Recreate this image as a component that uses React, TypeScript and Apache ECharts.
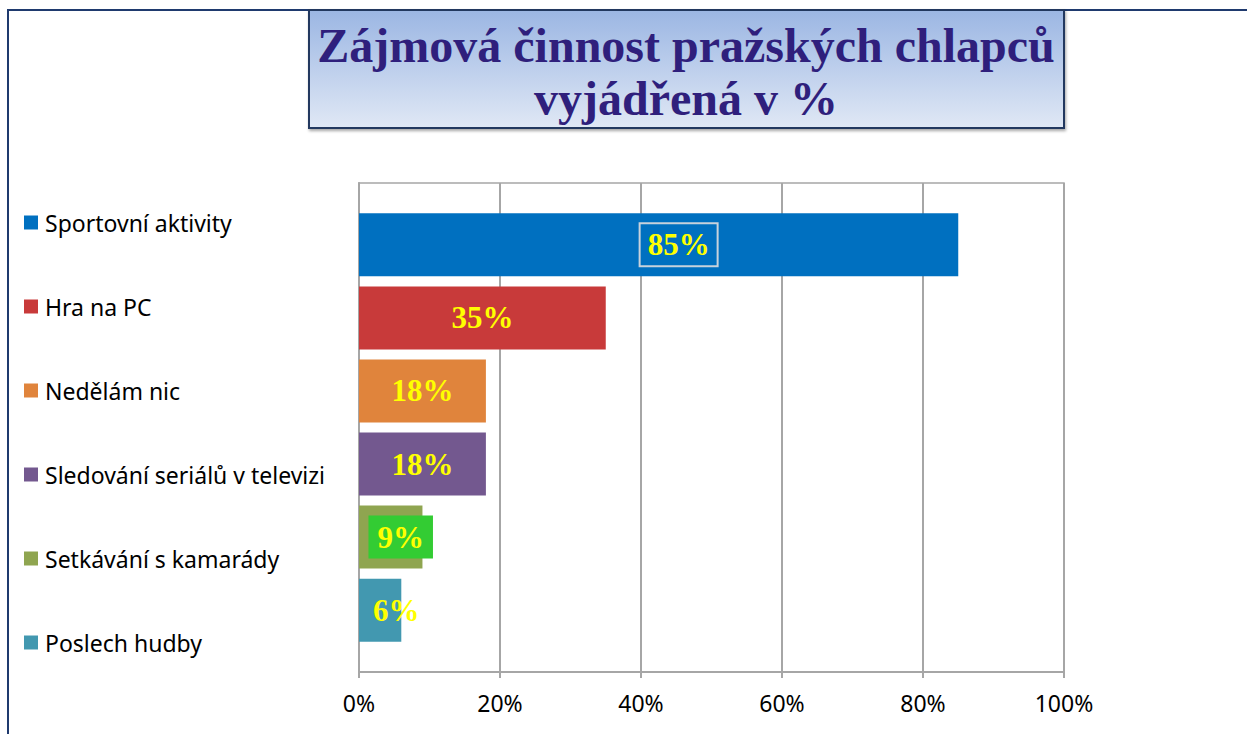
import React, { useEffect, useRef } from "react";
import * as echarts from "echarts";

const titleLines = ["Zájmová činnost pražských chlapců", "vyjádřená v %"];
const categories = [
  "Sportovní aktivity",
  "Hra na PC",
  "Nedělám nic",
  "Sledování seriálů v televizi",
  "Setkávání s kamarády",
  "Poslech hudby",
];
const values = [85, 35, 18, 18, 9, 6];
const colors = ["#0070c0", "#c83a3a", "#e0843c", "#73588f", "#8fa550", "#4298b0"];
const xTicks = [0, 20, 40, 60, 80, 100];

export default function App() {
  const ref = useRef<HTMLDivElement>(null);
  useEffect(() => {
    if (!ref.current) return;
    const chart = echarts.init(ref.current, null, { renderer: "svg" });
    const labelExtra: Record<number, any> = {
      0: {
        borderColor: "#c8d2dc",
        borderWidth: 2,
        padding: [6, 8, 6, 8],
        offset: [20, 0],
      },
      4: {
        backgroundColor: "#33cc33",
        padding: [6, 9, 6, 9],
        offset: [10, 0],
      },
      5: { offset: [16, 0] },
    };
    const series = categories.map((name, i) => ({
      name,
      type: "bar",
      data: [values[i]],
      barWidth: 63,
      barGap: "16%",
      itemStyle: { color: colors[i] },
      label: {
        show: true,
        position: "inside",
        formatter: "{c}%",
        color: "#ffff00",
        fontFamily: "Liberation Serif, Times New Roman, serif",
        fontWeight: "bold",
        fontSize: 31,
        ...(labelExtra[i] || {}),
      },
    }));
    chart.setOption({
      animation: false,
      title: {
        text: titleLines.join("\n"),
        left: 686,
        textAlign: "center",
        top: 19,
        padding: 0,
        textStyle: {
          fontFamily: "Liberation Serif, Times New Roman, serif",
          fontWeight: "bold",
          fontSize: 48,
          lineHeight: 53,
          color: "#2f1f7c",
        },
        z: 10,
      },
      graphic: [
        {
          type: "rect",
          shape: { x: 8, y: 10, width: 1400, height: 900 },
          style: { fill: "none", stroke: "#1f3a6e", lineWidth: 2 },
          z: 0,
        },
        {
          type: "rect",
          shape: { x: 309, y: 10, width: 755, height: 118 },
          style: {
            fill: new echarts.graphic.LinearGradient(0, 0, 0, 1, [
              { offset: 0, color: "#9bb6e3" },
              { offset: 1, color: "#e0e8f5" },
            ]),
            stroke: "#23385e",
            lineWidth: 2,
            shadowColor: "rgba(0,0,0,0.35)",
            shadowBlur: 3,
            shadowOffsetX: 1,
            shadowOffsetY: 2,
          },
          z: 1,
        },
      ],
      legend: {
        orient: "vertical",
        left: 24,
        top: 211,
        padding: 0,
        itemWidth: 14,
        itemHeight: 14,
        itemGap: 61,
        icon: "rect",
        data: categories,
        textStyle: {
          fontFamily: "Noto Sans",
          fontSize: 23,
          lineHeight: 23,
          color: "#000",
          padding: [0, 0, 0, 2],
        },
      },
      grid: {
        left: 359,
        right: 183,
        top: 183,
        bottom: 62,
        show: true,
        borderColor: "#a6a6a6",
        borderWidth: 1.5,
      },
      xAxis: {
        type: "value",
        min: 0,
        max: 100,
        interval: 20,
        axisLine: { show: true, lineStyle: { color: "#a6a6a6", width: 2 } },
        axisTick: { show: true, length: 6, lineStyle: { color: "#a6a6a6", width: 2 } },
        splitLine: { show: true, lineStyle: { color: "#a6a6a6", width: 2 } },
        axisLabel: {
          margin: 19,
          fontFamily: "Noto Sans",
          fontSize: 23,
          color: "#000",
          formatter: (v: number) => (xTicks.includes(v) ? v + "%" : ""),
        },
      },
      yAxis: {
        type: "category",
        data: [""],
        inverse: true,
        axisLine: { show: true, lineStyle: { color: "#a6a6a6", width: 2 } },
        axisTick: { show: false },
        axisLabel: { show: false },
      },
      series,
    });
    return () => chart.dispose();
  }, []);
  return (
    <div
      ref={ref}
      style={{ position: "fixed", left: 0, top: 0, width: 1247, height: 734, background: "#fff" }}
    />
  );
}
